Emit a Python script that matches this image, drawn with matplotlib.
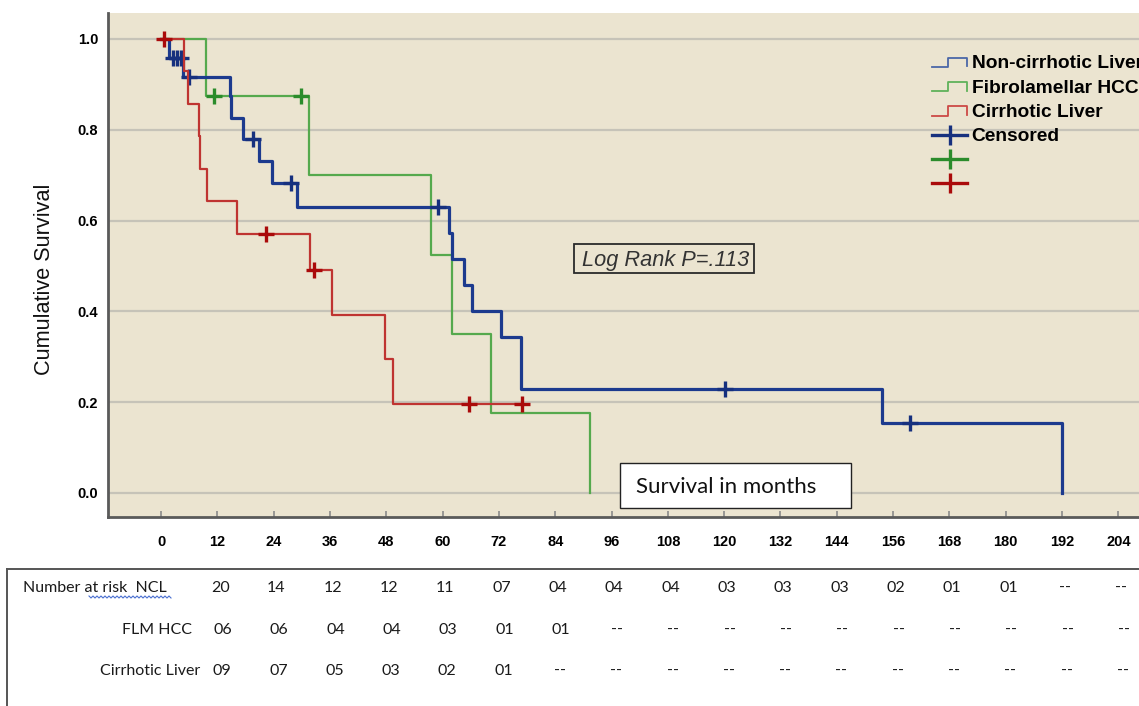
import numpy as np
import matplotlib
matplotlib.use("Agg")
import matplotlib.pyplot as plt
from matplotlib.lines import Line2D
from matplotlib.patches import Rectangle
from matplotlib.legend_handler import HandlerBase
from matplotlib import transforms

# ---------------- data ----------------
ncl_times = [1.7, 4.7, 14.6, 14.9, 17.5, 20.9, 23.7, 28.9, 61.4, 61.9, 64.6, 66.2, 72.4, 76.8, 153.6, 192.0]
ncl_surv = [0.958, 0.917, 0.874, 0.825, 0.779, 0.731, 0.682, 0.630, 0.573, 0.516, 0.458, 0.401, 0.344, 0.229, 0.153, 0.0]
ncl_cens = [2.5, 3.3, 4.2, 6.0, 19.5, 27.7, 59.1, 120.2, 159.6]
ncl_end = 192.0

flm_times = [9.5, 31.6, 57.5, 62.1, 70.3, 91.4]
flm_surv = [0.875, 0.700, 0.525, 0.350, 0.175, 0.0]
flm_cens = [11.3, 29.9]
flm_end = 91.4

cir_times = [4.9, 5.8, 8.0, 8.3, 9.9, 16.1, 31.7, 36.5, 47.8, 49.5]
cir_surv = [0.929, 0.857, 0.786, 0.714, 0.643, 0.571, 0.490, 0.392, 0.294, 0.196]
cir_cens = [0.6, 22.3, 32.5, 65.7, 76.9]
cir_end = 76.9

x_ticks = list(range(0, 205, 12))
y_ticks = [0.0, 0.2, 0.4, 0.6, 0.8, 1.0]

legend_labels = ["Non-cirrhotic Liver", "Fibrolamellar HCC", "Cirrhotic Liver", "Censored", "", ""]

risk_ncl = ["20", "14", "12", "12", "11", "07", "04", "04", "04", "03", "03", "03", "02", "01", "01", "--", "--"]
risk_flm = ["06", "06", "04", "04", "03", "01", "01", "--", "--", "--", "--", "--", "--", "--", "--", "--", "--"]
risk_cir = ["09", "07", "05", "03", "02", "01", "--", "--", "--", "--", "--", "--", "--", "--", "--", "--", "--"]
risk_cols = list(range(12, 205, 12))
risk_row_labels = ["Number at risk  NCL", "FLM HCC", "Cirrhotic Liver"]

logrank_text = "Log Rank P=.113"
xlabel_text = "Survival in months"
ylabel_text = "Cumulative Survival"

# ---------------- styling ----------------
W, H = 1139, 706
fig = plt.figure(figsize=(W / 100, H / 100), dpi=100)
fig.patch.set_facecolor("white")


def fx(px):
    return px / W


def fy(py):
    return 1 - py / H


BG = "#ebe4d0"
BLUE = "#1c3a8e"
GREEN = "#55a94d"
RED = "#bf3431"
BLUE_C = "#16307e"
GREEN_C = "#2b8c2b"
RED_C = "#aa0a0a"

ax = fig.add_axes([fx(108), fy(517), fx(1139 - 108), (517 - 13) / H])
ax.set_facecolor(BG)
ax.set_xlim(-11.3, 208.4)
ax.set_ylim(-0.053, 1.057)

for s in ["top", "right"]:
    ax.spines[s].set_visible(False)
for s in ["left", "bottom"]:
    ax.spines[s].set_color("#5a5a5a")
    ax.spines[s].set_linewidth(2.0)

ax.set_yticks(y_ticks)
ax.set_yticklabels([f"{v:.1f}" for v in y_ticks])
ax.set_xticks(x_ticks)
ax.set_xticklabels([str(v) for v in x_ticks])
ax.tick_params(axis="y", length=0, pad=7, labelsize=10.5)
ax.tick_params(axis="x", direction="in", length=4, width=1.2, color="#8a8a8a", pad=13, labelsize=10.5)
for lab in ax.get_xticklabels() + ax.get_yticklabels():
    lab.set_fontfamily("Liberation Sans")
    lab.set_fontweight("bold")

ax.yaxis.grid(True, color="#c6c3b8", linewidth=1.6)
ax.xaxis.grid(False)
ax.set_axisbelow(True)


def step_xy(times, surv, end):
    xs = [0.0] + list(times) + [end]
    ys = [1.0] + list(surv) + [surv[-1]]
    return xs, ys


def cens_y(times, surv, cens):
    levels = np.array([1.0] + list(surv))
    idx = np.searchsorted(np.array(times), np.array(cens), side="right")
    return levels[idx]


groups = [
    (flm_times, flm_surv, flm_cens, flm_end, GREEN, GREEN_C, 1.6),
    (ncl_times, ncl_surv, ncl_cens, ncl_end, BLUE, BLUE_C, 2.3),
    (cir_times, cir_surv, cir_cens, cir_end, RED, RED_C, 1.6),
]
for z, (t, s, c, e, col, ccol, lw) in enumerate(groups):
    xs, ys = step_xy(t, s, e)
    ax.step(xs, ys, where="post", color=col, lw=lw, zorder=3 + z)
    ax.plot(c, cens_y(t, s, c), linestyle="none", marker="+", ms=11, mew=2.4,
            color=ccol, zorder=3 + z)


# ---------------- legend ----------------
class StepHandler(HandlerBase):
    def create_artists(self, legend, orig_handle, xdescent, ydescent, width, height, fontsize, trans):
        x0, y0 = -xdescent, -ydescent
        xs = [x0, x0 + 0.45 * width, x0 + 0.45 * width, x0 + width, x0 + width]
        ys = [y0 + 0.1 * height, y0 + 0.1 * height, y0 + 0.8 * height, y0 + 0.8 * height, y0 + 0.15 * height]
        ln = Line2D(xs, ys, color=orig_handle.get_color(), lw=orig_handle.get_linewidth())
        ln.set_transform(trans)
        return [ln]


h_ncl = Line2D([], [], color="#4b67a8", lw=1.3)
h_flm = Line2D([], [], color="#5fb25a", lw=1.3)
h_cir = Line2D([], [], color="#cc4a46", lw=1.3)
h_c1 = Line2D([], [], color=BLUE_C, lw=2.4, marker="|", ms=15, mew=2.4)
h_c2 = Line2D([], [], color=GREEN_C, lw=2.4, marker="|", ms=15, mew=2.4)
h_c3 = Line2D([], [], color=RED_C, lw=2.4, marker="|", ms=15, mew=2.4)
leg = ax.legend([h_ncl, h_flm, h_cir, h_c1, h_c2, h_c3], legend_labels,
                handler_map={h_ncl: StepHandler(), h_flm: StepHandler(), h_cir: StepHandler()},
                loc="upper left", bbox_to_anchor=(fx(932), fy(55)), bbox_transform=fig.transFigure,
                frameon=False, borderpad=0, borderaxespad=0, handlelength=1.85, handletextpad=0.22,
                labelspacing=0.36, numpoints=1,
                prop={"family": "Liberation Sans", "weight": "bold", "size": 13.8})
leg.set_zorder(10)

# ---------------- log rank box ----------------
fig.add_artist(Rectangle((fx(574), fy(273)), fx(754 - 574), (273 - 244) / H, transform=fig.transFigure,
                         facecolor="none", edgecolor="#2a2a2a", lw=1.3, zorder=11))
fig.text(fx(666), fy(260), logrank_text, ha="center", va="center", fontsize=15.7, style="italic",
         family="Liberation Sans", color="#333333", zorder=12)

# ---------------- x label box ----------------
fig.add_artist(Rectangle((fx(620), fy(508)), fx(851 - 620), (508 - 463) / H, transform=fig.transFigure,
                         facecolor="white", edgecolor="#222222", lw=1.0, zorder=11))
fig.text(fx(636), fy(487), xlabel_text, ha="left", va="center", fontsize=16, family="Lato",
         color="#111111", zorder=12)

# ---------------- y label ----------------
fig.text(fx(45), fy(279), ylabel_text, rotation=90, ha="center", va="center", fontsize=15.6,
         family="Liberation Sans", color="#111111")

# ---------------- number at risk table ----------------
fig.add_artist(Line2D([fx(7), 1.0], [fy(569), fy(569)], transform=fig.transFigure, color="#555555", lw=1.4))
fig.add_artist(Line2D([fx(7), fx(7)], [fy(569), 0.0], transform=fig.transFigure, color="#555555", lw=1.4))

blend = transforms.blended_transform_factory(ax.transData, fig.transFigure)
row_y = [588, 630, 671]
tfont = dict(family="Lato", fontsize=11.5, color="#1a1a1a", va="center")
fig.text(fx(23), fy(row_y[0]), risk_row_labels[0], ha="left", **tfont)
fig.text(fx(192), fy(row_y[1]), risk_row_labels[1], ha="right", **tfont)
fig.text(fx(200), fy(row_y[2]), risk_row_labels[2], ha="right", **tfont)
for row, vals, off in zip(row_y, [risk_ncl, risk_flm, risk_cir], [0.6, 1.2, 1.0]):
    for xc, v in zip(risk_cols, vals):
        fig.text(xc + off, fy(row), v, ha="center", transform=blend, **tfont)

# spell-check squiggle under "risk  NCL"
sq_x = np.arange(89, 173, 2.0)
sq_y = 597 + np.where(np.arange(len(sq_x)) % 2 == 0, -1.0, 1.0)
fig.add_artist(Line2D(fx(sq_x), fy(sq_y), transform=fig.transFigure, color="#4a6fd0", lw=0.8))

fig.savefig("out.png", dpi=100)
